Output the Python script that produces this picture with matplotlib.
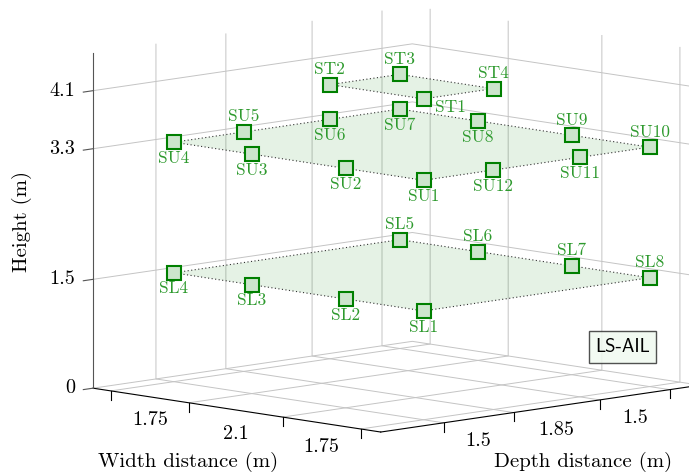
import numpy as np
import matplotlib
matplotlib.use('Agg')
import matplotlib.pyplot as plt
from matplotlib.transforms import offset_copy
from matplotlib.lines import Line2D
from mpl_toolkits.mplot3d.art3d import Poly3DCollection

# spacing between grid lines (m), as printed on the axes
width_gaps = [1.75, 2.1, 1.75]
depth_gaps = [1.5, 1.85, 1.5]
height_ticks = [0, 1.5, 3.3, 4.1]

# lower plane
sl_names = ['SL1', 'SL2', 'SL3', 'SL4', 'SL5', 'SL6', 'SL7', 'SL8']
sl_width = [5.6, 3.85, 1.75, 0.0, 0.0, 1.75, 3.85, 5.6]
sl_depth = [0.0, 0.0, 0.0, 0.0, 4.85, 4.85, 4.85, 4.85]
sl_height = 1.5
sl_side = ['below', 'below', 'below', 'below', 'above', 'above', 'above', 'above']

# upper plane
su_names = ['SU1', 'SU2', 'SU3', 'SU4', 'SU5', 'SU6', 'SU7', 'SU8', 'SU9', 'SU10', 'SU11', 'SU12']
su_width = [5.6, 3.85, 1.75, 0.0, 0.0, 0.0, 0.0, 1.75, 3.85, 5.6, 5.6, 5.6]
su_depth = [0.0, 0.0, 0.0, 0.0, 1.5, 3.35, 4.85, 4.85, 4.85, 4.85, 3.35, 1.5]
su_height = 3.3
su_side = ['below', 'below', 'below', 'below', 'above', 'below',
           'below', 'below', 'above', 'above', 'below', 'below']

# top plane
st_names = ['ST1', 'ST2', 'ST3', 'ST4']
st_width = [3.85, 1.75, 1.75, 3.85]
st_depth = [1.675, 1.675, 3.175, 3.175]
st_height = 4.1
st_side = ['right', 'above', 'above', 'above']

plt.rcParams['font.family'] = 'cmr10'
plt.rcParams['mathtext.fontset'] = 'cm'
plt.rcParams['axes.formatter.use_mathtext'] = True
plt.rcParams['grid.color'] = '#c4c4c4'
plt.rcParams['grid.linewidth'] = 0.7
plt.rcParams['axes.edgecolor'] = 'black'
plt.rcParams['axes.linewidth'] = 0.8

green = '#008000'
text_green = '#2e9a2e'
xlim = (-0.4, 6.05)
ylim = (-1.35, 5.5)
zlim = (0, 4.62)

width_grid = np.concatenate([[0], np.cumsum(width_gaps)])
depth_grid = np.concatenate([[0], np.cumsum(depth_gaps)])

fig = plt.figure(figsize=(6.89, 4.72), dpi=100)
ax = fig.add_axes([-0.02075, -0.3345, 1.1611, 1.69492], projection='3d',
                  proj_type='ortho', computed_zorder=False)
ax.view_init(elev=8.6, azim=-44.45)
ax.set_box_aspect((410.9, 447.3, 339.1), zoom=0.844)

offsets = {'above': (0, 11), 'below': (0, -11.5), 'right': (19, -6)}


def draw_plane(w, d, h, names, sides):
    w = np.asarray(w)
    d = np.asarray(d)
    z = np.full(len(w), h)
    verts = [list(zip(w, d, z))]
    ax.add_collection3d(Poly3DCollection(verts, facecolors=(0, 0.5, 0, 0.1),
                                         edgecolors='none', zorder=1))
    ax.plot(np.append(w, w[0]), np.append(d, d[0]), np.append(z, z[0]),
            color='#333333', lw=0.8, ls=(0, (1, 2.2)), zorder=2)
    ax.plot(w, d, z, 's', ms=9.6, mfc='#cce5cc', mec=green, mew=1.5,
            ls='none', zorder=3)
    for xi, yi, name, side in zip(w, d, names, sides):
        dx, dy = offsets[side]
        tr = offset_copy(ax.transData, fig=fig, x=dx, y=dy, units='points')
        ax.text(xi, yi, h, name, transform=tr, ha='center', va='center',
                color=text_green, fontsize=12.5, zorder=4)


draw_plane(sl_width, sl_depth, sl_height, sl_names, sl_side)
draw_plane(su_width, su_depth, su_height, su_names, su_side)
draw_plane(st_width, st_depth, st_height, st_names, st_side)

# vertical tick marks on the two floor axes
tick_len = 0.12
for w in width_grid:
    ax.plot([w, w], [ylim[0], ylim[0]], [0, -tick_len], color='black', lw=0.8)
for d in depth_grid:
    ax.plot([xlim[1], xlim[1]], [d, d], [0, -tick_len], color='black', lw=0.8)

# gap labels sit between the grid lines
lab_tr = offset_copy(ax.transData, fig=fig, y=-17, units='points')
for a, b, g in zip(width_grid[:-1], width_grid[1:], width_gaps):
    ax.text((a + b) / 2, ylim[0], 0, f'{g:g}', transform=lab_tr,
            ha='center', va='center', fontsize=14.5)
for a, b, g in zip(depth_grid[:-1], depth_grid[1:], depth_gaps):
    ax.text(xlim[1], (a + b) / 2, 0, f'{g:g}', transform=lab_tr,
            ha='center', va='center', fontsize=14.5)

ax.set_xticks(width_grid)
ax.set_xticklabels([])
ax.set_yticks(depth_grid)
ax.set_yticklabels([])
ax.set_zticks(height_ticks)
ax.set_zticklabels([f'{v:g}' for v in height_ticks], fontsize=14.5,
                   ha='right', va='center')
ax.zaxis.set_ticks_position('lower')
ax.tick_params(axis='x', color=(0, 0, 0, 0))
ax.tick_params(axis='y', color=(0, 0, 0, 0))
ax.tick_params(axis='z', color='#555555', pad=1)
ax.zaxis._axinfo['tick']['inward_factor'] = 0.38
ax.zaxis._axinfo['tick']['outward_factor'] = 0.0
ax.zaxis.line.set_color('#555555')

for axis in (ax.xaxis, ax.yaxis, ax.zaxis):
    axis.set_pane_color((1, 1, 1, 0))

ax.set_xlim(*xlim)
ax.set_ylim(*ylim)
ax.set_zlim(*zlim)

fig.text(188.5 / 689, 1 - 461.5 / 472, 'Width distance (m)', ha='center', va='center', fontsize=15)
fig.text(583 / 689, 1 - 461.5 / 472, 'Depth distance (m)', ha='center', va='center', fontsize=15)
fig.text(22 / 689, 1 - 221 / 472, 'Height (m)', rotation=90, ha='center', va='center', fontsize=15)

ax.legend([Line2D([], [], ls='none')], ['LS-AIL'], loc='center',
          bbox_to_anchor=(622.5 / 689, 1 - 347 / 472), bbox_transform=fig.transFigure,
          handlelength=0, handletextpad=0, fancybox=False, edgecolor='#333333',
          facecolor=(0.94, 0.98, 0.94), framealpha=0.85, borderpad=0.35,
          prop={'family': 'cmss10', 'size': 13.5})

fig.savefig('out.png', dpi=100)
